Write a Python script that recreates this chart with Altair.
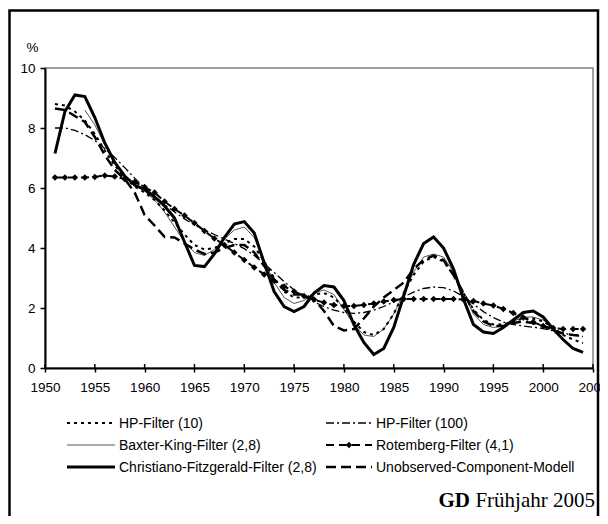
import altair as alt
import pandas as pd

# ---------------- data ----------------
years = list(range(1951, 2005))
bk_years = list(range(1954, 2002))

hp10 = [8.8, 8.75, 8.55, 8.25, 7.8, 7.25, 6.75, 6.35, 6.05, 5.85,
        5.6, 5.25, 4.85, 4.45, 4.1, 3.95, 4.0, 4.15, 4.3, 4.3,
        4.05, 3.55, 3.0, 2.55, 2.35, 2.35, 2.45, 2.5, 2.35, 2.0,
        1.55, 1.2, 1.1, 1.3, 1.8, 2.5, 3.1, 3.55, 3.7, 3.55,
        3.1, 2.5, 1.95, 1.6, 1.45, 1.45, 1.55, 1.65, 1.65, 1.55,
        1.35, 1.1, 0.95, 0.83]

hp100 = [8.0, 8.0, 7.92, 7.78, 7.58, 7.32, 7.02, 6.68, 6.33, 6.0,
         5.72, 5.45, 5.2, 4.97, 4.77, 4.6, 4.45, 4.3, 4.15, 3.98,
         3.75, 3.48, 3.18, 2.88, 2.6, 2.38, 2.2, 2.05, 1.93, 1.85,
         1.82, 1.85, 1.93, 2.05, 2.2, 2.37, 2.53, 2.65, 2.7, 2.68,
         2.57, 2.38, 2.13, 1.88, 1.68, 1.53, 1.45, 1.4, 1.36, 1.31,
         1.24, 1.16, 1.1, 1.05]

bk = [8.6, 8.1, 7.45, 6.85, 6.4, 6.1, 5.9, 5.6, 5.2, 4.7,
      4.2, 3.85, 3.75, 3.95, 4.3, 4.6, 4.7, 4.35, 3.6, 2.85,
      2.35, 2.15, 2.25, 2.5, 2.6, 2.45, 1.95, 1.45, 1.1, 1.05,
      1.3, 1.8, 2.5, 3.2, 3.7, 3.8, 3.7, 3.2, 2.5, 1.8,
      1.45, 1.35, 1.4, 1.55, 1.7, 1.7, 1.6, 1.35]

rotemberg = [6.35, 6.35, 6.35, 6.35, 6.37, 6.42, 6.38, 6.3, 6.2, 6.03,
             5.85, 5.55, 5.3, 5.08, 4.83, 4.57, 4.32, 4.1, 3.85, 3.6,
             3.35, 3.12, 2.9, 2.72, 2.55, 2.4, 2.28, 2.18, 2.1, 2.07,
             2.07, 2.1, 2.15, 2.22, 2.27, 2.3, 2.3, 2.3, 2.3, 2.3,
             2.3, 2.28, 2.23, 2.15, 2.08, 1.97, 1.83, 1.68, 1.53, 1.4,
             1.33, 1.3, 1.3, 1.3]

cf = [7.15, 8.55, 9.1, 9.05, 8.35, 7.5, 6.85, 6.4, 6.1, 5.95,
      5.7, 5.4, 5.0, 4.2, 3.42, 3.38, 3.8, 4.35, 4.8, 4.88,
      4.5, 3.5, 2.55, 2.05, 1.88, 2.05, 2.5, 2.75, 2.7, 2.25,
      1.45, 0.85, 0.45, 0.65, 1.35, 2.4, 3.45, 4.15, 4.37, 4.0,
      3.3, 2.3, 1.45, 1.2, 1.15, 1.35, 1.6, 1.85, 1.9, 1.7,
      1.3, 0.95, 0.65, 0.52]

uc = [8.65, 8.6, 8.4, 8.2, 7.7, 7.1, 6.6, 6.3, 5.85, 5.1,
      4.75, 4.37, 4.35, 4.15, 3.95, 3.8, 3.85, 4.0, 4.1, 4.1,
      3.85, 3.4, 2.95, 2.6, 2.45, 2.45, 2.3, 1.9, 1.4, 1.25,
      1.3, 1.65, 2.05, 2.35, 2.6, 2.85, 3.3, 3.6, 3.75, 3.6,
      3.1, 2.5, 1.9, 1.55, 1.4, 1.4, 1.5, 1.55, 1.5, 1.4,
      1.25, 1.15, 1.1, 1.07]

series_names = ["HP-Filter (10)", "HP-Filter (100)",
                "Baxter-King-Filter (2,8)", "Rotemberg-Filter (4,1)",
                "Christiano-Fitzgerald-Filter (2,8)", "Unobserved-Component-Modell"]
x_ticks = list(range(1950, 2006, 5))
y_ticks = [0, 2, 4, 6, 8, 10]

# ---------------- styles ----------------
styles = {
    "HP-Filter (10)": dict(color="black", strokeWidth=2, strokeDash=[3, 4]),
    "HP-Filter (100)": dict(color="black", strokeWidth=1.3, strokeDash=[8, 3, 2, 3]),
    "Baxter-King-Filter (2,8)": dict(color="#555555", strokeWidth=1),
    "Rotemberg-Filter (4,1)": dict(color="black", strokeWidth=2, strokeDash=[8, 5]),
    "Christiano-Fitzgerald-Filter (2,8)": dict(color="black", strokeWidth=3),
    "Unobserved-Component-Modell": dict(color="black", strokeWidth=2.5, strokeDash=[10, 5]),
}
data_map = {
    "HP-Filter (10)": (years, hp10),
    "HP-Filter (100)": (years, hp100),
    "Baxter-King-Filter (2,8)": (bk_years, bk),
    "Rotemberg-Filter (4,1)": (years, rotemberg),
    "Christiano-Fitzgerald-Filter (2,8)": (years, cf),
    "Unobserved-Component-Modell": (years, uc),
}

W, H = 548, 300
FONT = "Liberation Sans"
DIAMOND = 42

xscale = alt.Scale(domain=[1950, 2005], nice=False, zero=False)
yscale = alt.Scale(domain=[0, 10], nice=False)
xenc = alt.X("Jahr:Q", scale=xscale,
             axis=alt.Axis(values=x_ticks, format="d", title=None, tickSize=4,
                           labelPadding=8, labelFlush=False, labelOverlap=False))
yenc = alt.Y("Wert:Q", scale=yscale,
             axis=alt.Axis(values=y_ticks, title="%", titleAngle=0, titleX=-13, titleY=-21,
                           titleAlign="center", titleBaseline="middle", titleFont=FONT,
                           titleFontSize=13.5, titleFontWeight="normal", tickSize=5,
                           labelPadding=5))

layers = []

# outer frame
frame = alt.Chart(pd.DataFrame({"k": [0]})).mark_rect(
    fillOpacity=0, stroke="black", strokeWidth=2.5, clip=False
).encode(x=alt.value(-35.5), x2=alt.value(553), y=alt.value(-57.5), y2=alt.value(470))
layers.append(frame)

draw_order = ["Baxter-King-Filter (2,8)", "HP-Filter (100)", "HP-Filter (10)",
              "Unobserved-Component-Modell", "Rotemberg-Filter (4,1)",
              "Christiano-Fitzgerald-Filter (2,8)"]
for name in draw_order:
    yrs, vals = data_map[name]
    assert len(yrs) == len(vals), name
    df = pd.DataFrame({"Jahr": yrs, "Wert": vals})
    layers.append(alt.Chart(df).mark_line(**styles[name]).encode(x=xenc, y=yenc))
    if name.startswith("Rotemberg"):
        layers.append(alt.Chart(df).mark_point(shape="diamond", filled=True, size=DIAMOND,
                                               color="black", opacity=1).encode(x=xenc, y=yenc))

# inner half of crossing x ticks
tick_df = pd.DataFrame({"Jahr": x_ticks})
layers.append(alt.Chart(tick_df).mark_rule(color="black", strokeWidth=1.5).encode(
    x=xenc, y=alt.value(H), y2=alt.value(H - 4)))

# legend (two columns, three rows)
for i, name in enumerate(series_names):
    row, col = i // 2, i % 2
    ly = 355 + 22 * row
    x0 = 22 if col == 0 else 281
    x1 = x0 + (48 if col == 0 else 46)
    one = pd.DataFrame({"s": [name]})
    layers.append(alt.Chart(one).mark_rule(**styles[name]).encode(
        x=alt.value(x0), x2=alt.value(x1), y=alt.value(ly)))
    if name.startswith("Rotemberg"):
        layers.append(alt.Chart(one).mark_point(shape="diamond", filled=True, size=DIAMOND,
                                                color="black", opacity=1).encode(
            x=alt.value((x0 + x1) / 2), y=alt.value(ly)))
    layers.append(alt.Chart(one).mark_text(align="left", baseline="middle", font=FONT,
                                           fontSize=14, color="black").encode(
        x=alt.value(x1 + 4), y=alt.value(ly + 1), text="s:N"))

# source note
layers.append(alt.Chart(pd.DataFrame({"t": ["Frühjahr 2005"]})).mark_text(
    align="right", baseline="alphabetic", font="Liberation Serif", fontSize=21,
    color="black").encode(x=alt.value(550), y=alt.value(439), text="t:N"))
layers.append(alt.Chart(pd.DataFrame({"t": ["GD"]})).mark_text(
    align="right", baseline="alphabetic", font="Liberation Serif", fontSize=21,
    fontWeight="bold", color="black").encode(x=alt.value(425), y=alt.value(439), text="t:N"))

chart = alt.layer(*layers).properties(
    width=W, height=H,
    padding={"left": 37, "top": 60, "right": 7, "bottom": 148},
    autosize=alt.AutoSizeParams(type="none"),
).configure_view(
    stroke="#808080", strokeWidth=1.5
).configure_axis(
    labelFont=FONT, labelFontSize=13.5, labelColor="black",
    domainColor="black", domainWidth=2, tickColor="black", tickWidth=1.5, grid=False
)

chart.save("out.html", embed_options={"renderer": "svg", "actions": False})
